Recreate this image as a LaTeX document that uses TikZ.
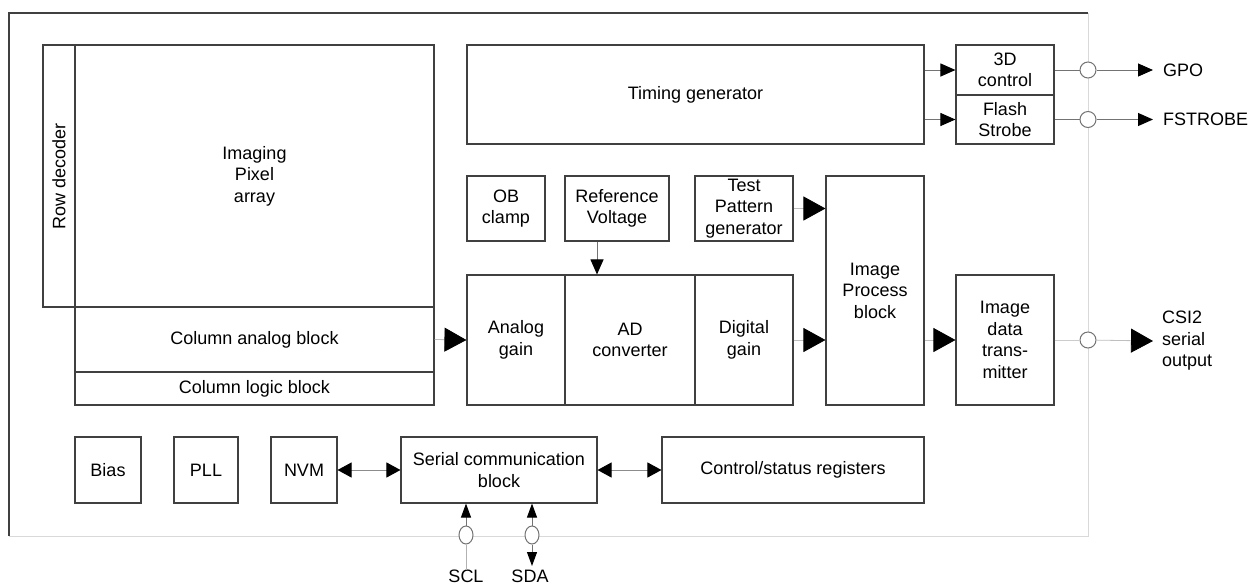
\documentclass[tikz,border=0pt]{standalone}
\usepackage{fontspec}
\setmainfont{Liberation Sans}
\usepackage{tikz}
\usepackage{xcolor}
\usetikzlibrary{arrows.meta,shapes.geometric}
\tikzstyle{block} = [rectangle, draw=black!75, line width=1.1pt, inner sep=0pt, align=center, font=\fontsize{18}{21.5}\selectfont]
\tikzstyle{port} = [circle, draw=black!55, fill=white, line width=1pt, minimum size=16pt, inner sep=0pt]
\tikzstyle{pin} = [font=\fontsize{18}{21.5}\selectfont, inner sep=0pt, align=left]
\tikzstyle{bigflow} = [draw=black!25, line width=0.8pt, -{Triangle[length=22pt,width=24pt,color=black]}]
\tikzstyle{flow} = [draw=black!55, line width=1pt, -{Triangle[length=15pt,width=13pt,color=black]}]
\tikzstyle{both} = [draw=black!45, line width=1pt, {Triangle[length=14pt,width=15pt,color=black]}-{Triangle[length=14pt,width=15pt,color=black]}]
\tikzstyle{wire} = [draw=black!55, line width=1pt]

\begin{document}
\begin{tikzpicture}[x=1pt,y=-1pt]
    \useasboundingbox (0,0) rectangle (1251,587);
    \draw [draw=black!15, line width=1pt] (9,536) -- (1088,536) -- (1088,13);
    \draw [draw=black!75, line width=1.2pt] (9,536) -- (9,13) -- (1088,13);

    \node (rowdec) [block, minimum width=32pt, minimum height=262pt] at (59,176) {};
    \node [rotate=90, font=\fontsize{18}{21.5}\selectfont] at (rowdec.center) {Row decoder};
    \node (pixel) [block, minimum width=359pt, minimum height=262pt] at (254.5,176) {Imaging\\Pixel\\array};
    \node (colana) [block, minimum width=359pt, minimum height=65pt] at (254.5,339.5) {Column analog block};
    \node (collog) [block, minimum width=359pt, minimum height=33pt] at (254.5,388.5) {Column logic block};

    \node (timing) [block, minimum width=457pt, minimum height=99pt] at (695.5,94.5) {Timing generator};
    \node (ctrl3d) [block, minimum width=98pt, minimum height=50pt] at (1005,70) {3D\\control};
    \node (flash) [block, minimum width=98pt, minimum height=49pt] at (1005,119.5) {Flash\\Strobe};

    \node (obclamp) [block, minimum width=78pt, minimum height=65pt] at (506,208.5) {OB\\clamp};
    \node (refvolt) [block, minimum width=104pt, minimum height=65pt] at (617,208.5) {Reference\\Voltage};
    \node (testpat) [block, minimum width=98pt, minimum height=65pt] at (744,208.5) {Test\\Pattern\\generator};
    \node (imgproc) [block, minimum width=98pt, minimum height=229pt] at (875,290.5) {Image\\Process\\block};
    \node (anagain) [block, minimum width=98pt, minimum height=130pt] at (516,340) {Analog\\gain};
    \node (adconv) [block, minimum width=130pt, minimum height=130pt] at (630,340) {AD\\converter};
    \node (diggain) [block, minimum width=98pt, minimum height=130pt] at (744,340) {Digital\\gain};
    \node (imgdata) [block, minimum width=98pt, minimum height=130pt] at (1005,340) {Image\\data\\trans-\\mitter};

    \node (bias) [block, minimum width=66pt, minimum height=66pt] at (108,470) {Bias};
    \node (pll) [block, minimum width=64pt, minimum height=66pt] at (206,470) {PLL};
    \node (nvm) [block, minimum width=66pt, minimum height=66pt] at (304,470) {NVM};
    \node (serial) [block, minimum width=196pt, minimum height=66pt] at (499,470) {Serial communication\\block};
    \node (ctrlreg) [block, minimum width=262pt, minimum height=66pt] at (793,470) {Control/status registers};

    \node (gpoport) [port] at (1088,70) {};
    \node (fstport) [port] at (1088,119.5) {};
    \node (csiport) [port] at (1088,340) {};
    \node (sclport) [port, minimum width=14pt, minimum height=18pt, ellipse] at (466,535) {};
    \node (sdaport) [port, minimum width=14pt, minimum height=18pt, ellipse] at (532,535) {};

    \node (gpo) [pin, anchor=west] at (1163,70) {GPO};
    \node (fstrobe) [pin, anchor=west] at (1163,119.5) {FSTROBE};
    \node (csi) [pin, anchor=west] at (1162,341) {CSI2\\serial\\output};
    \node (scl) [pin, anchor=north] at (466,570) {SCL};
    \node (sda) [pin, anchor=north] at (530,570) {SDA};
    \coordinate (sdaend) at (532,566);

    \draw [bigflow] (colana.east) -- (anagain.west);
    \draw [flow] ([xshift=-20pt]refvolt.south) -- ([xshift=-20pt]refvolt.south |- adconv.north);
    \draw [bigflow] (testpat.east) -- (testpat.east -| imgproc.west);
    \draw [bigflow] (diggain.east) -- (diggain.east -| imgproc.west);
    \draw [bigflow] (imgproc.east |- imgdata.west) -- (imgdata.west);
    \draw [flow] (ctrl3d.west -| timing.east) -- (ctrl3d.west);
    \draw [flow] (flash.west -| timing.east) -- (flash.west);

    \draw [wire] (ctrl3d.east) -- (gpoport);
    \draw [flow] (gpoport) -- ([xshift=-10pt]gpo.west);
    \draw [wire] (flash.east) -- (fstport);
    \draw [flow] (fstport) -- ([xshift=-10pt]fstrobe.west);
    \draw [wire, draw=black!20] (imgdata.east) -- (csiport);
    \draw [bigflow] (csiport) -- ([xshift=-9pt]csi.west);

    \draw [both] (nvm.east) -- (serial.west);
    \draw [both] (serial.east) -- (ctrlreg.west);

    \draw [wire, draw=black!30] (scl.north) -- (sclport);
    \draw [flow, -{Triangle[length=14pt,width=10pt,color=black]}] (sclport) -- (sclport |- serial.south);
    \draw [flow, -{Triangle[length=14pt,width=10pt,color=black]}] (sdaport) -- (sdaport |- serial.south);
    \draw [flow, -{Triangle[length=14pt,width=10pt,color=black]}] (sdaport) -- (sdaend);
\end{tikzpicture}
\end{document}
